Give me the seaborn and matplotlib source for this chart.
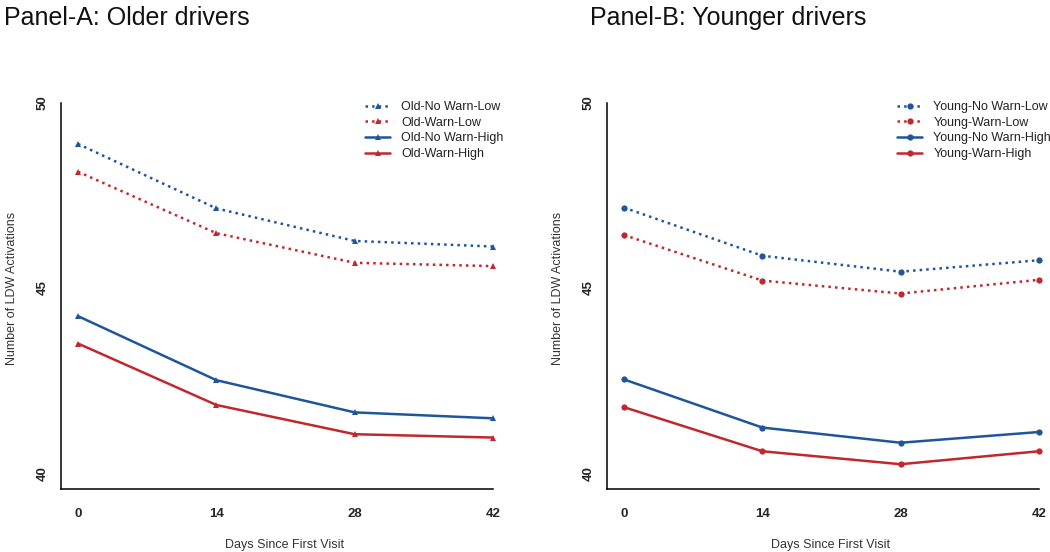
import matplotlib
matplotlib.use('Agg')
import matplotlib.pyplot as plt
import seaborn as sns
import pandas as pd

days = [0, 14, 28, 42]

old_labels = ['Old-No Warn-Low', 'Old-Warn-Low', 'Old-No Warn-High', 'Old-Warn-High']
old_nowarn_low = [48.89, 47.15, 46.27, 46.12]
old_warn_low = [48.14, 46.48, 45.68, 45.59]
old_nowarn_high = [44.24, 42.51, 41.64, 41.48]
old_warn_high = [43.50, 41.84, 41.05, 40.96]

young_labels = ['Young-No Warn-Low', 'Young-Warn-Low', 'Young-No Warn-High', 'Young-Warn-High']
young_nowarn_low = [47.17, 45.87, 45.44, 45.75]
young_warn_low = [46.43, 45.20, 44.85, 45.22]
young_nowarn_high = [42.53, 41.23, 40.82, 41.11]
young_warn_high = [41.78, 40.59, 40.24, 40.59]

blue = '#1F569B'
red = '#C0282E'
colors = [blue, red, blue, red]
styles = [':', ':', '-', '-']

sns.set_style('white')
plt.rcParams['font.family'] = ['Liberation Sans', 'DejaVu Sans']

fig = plt.figure(figsize=(10.5, 5.52), dpi=100)


def draw_panel(rect, labels, series, marker, msize, title, title_x, leg_x):
    ax = fig.add_axes(rect)
    for lab, vals, c, ls in zip(labels, series, colors, styles):
        df = pd.DataFrame({'day': days, 'val': vals})
        sns.lineplot(data=df, x='day', y='val', ax=ax, color=c, linestyle=ls,
                     linewidth=1.8, marker=marker, markersize=msize,
                     markeredgewidth=0, label=lab)
    ax.set_xlim(-1.72, 43.5)
    ax.set_ylim(39.57, 50.4)
    ax.set_xticks(days)
    ax.set_yticks([40, 45, 50])
    ax.set_xticklabels([str(d) for d in days], fontweight='bold', fontsize=9.5)
    ax.set_yticklabels(['40', '45', '50'], fontweight='bold', fontsize=9.5,
                       rotation=90, va='center')
    ax.tick_params(axis='both', length=4.5, width=1, color='black', direction='out')
    ax.tick_params(axis='x', pad=9)
    ax.tick_params(axis='y', pad=4.5)
    for s in ['top', 'right']:
        ax.spines[s].set_visible(False)
    ax.spines['left'].set_bounds(39.57, 50)
    ax.spines['bottom'].set_bounds(-1.72, 42)
    for s in ['left', 'bottom']:
        ax.spines[s].set_color('black')
        ax.spines[s].set_linewidth(1.1)
    ax.set_xlabel('Days Since First Visit', fontsize=9, color='#333333', labelpad=14)
    ax.set_ylabel('Number of LDW Activations', fontsize=9, color='#333333', labelpad=13)
    leg = ax.legend(loc='upper left', frameon=False, fontsize=9,
                    handlelength=2.0, handletextpad=0.9, labelspacing=0.3,
                    borderaxespad=0, borderpad=0,
                    bbox_to_anchor=(leg_x / 1050, 1 - 101 / 552),
                    bbox_transform=fig.transFigure)
    for t in leg.get_texts():
        t.set_color('#222222')
    fig.text(title_x, 0.99, title, fontsize=18, va='top', ha='left', color='#111111')
    return ax


draw_panel([0.0581, 0.1141, 0.4255, 0.7264], old_labels,
           [old_nowarn_low, old_warn_low, old_nowarn_high, old_warn_high],
           '^', 5, 'Panel-A: Older drivers', 0.004, 365)
draw_panel([0.5781, 0.1141, 0.4255, 0.7264], young_labels,
           [young_nowarn_low, young_warn_low, young_nowarn_high, young_warn_high],
           'o', 4.5, 'Panel-B: Younger drivers', 0.562, 897)

fig.savefig('out.png', dpi=100)
